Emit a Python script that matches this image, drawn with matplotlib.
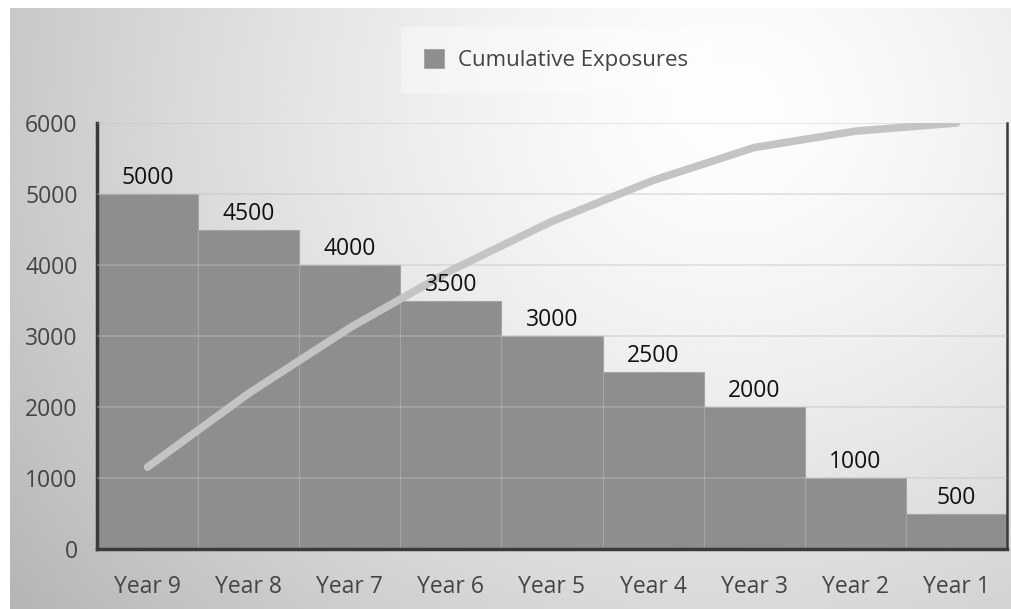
import numpy as np
import matplotlib
matplotlib.use("Agg")
import matplotlib.pyplot as plt
from matplotlib.patches import Patch

# data
years = ["Year 9", "Year 8", "Year 7", "Year 6", "Year 5", "Year 4", "Year 3", "Year 2", "Year 1"]
exposures = [5000, 4500, 4000, 3500, 3000, 2500, 2000, 1000, 500]
cumulative = [1154, 2192, 3115, 3923, 4615, 5192, 5654, 5885, 6000]
yticks = [0, 1000, 2000, 3000, 4000, 5000, 6000]

plt.rcParams['font.family'] = ['Open Sans', 'DejaVu Sans']

W, H = 1011, 609
fig = plt.figure(figsize=(W / 100, H / 100), dpi=100)
fig.patch.set_facecolor("white")

# gradient backdrop
bg = fig.add_axes([10 / W, 0, 1 - 10 / W, 1 - 8 / H])
xx, yy = np.meshgrid(np.linspace(10, W, 400), np.linspace(8, H, 250))
d = np.sqrt(((xx - 730) / 1.0) ** 2 + ((yy - 110) / 0.9) ** 2)
val = np.clip(0.995 - 0.24 * (d / 800) ** 1.4, 0, 1)
bg.imshow(val, cmap="gray", vmin=0, vmax=1, aspect="auto", extent=[0, 1, 0, 1], interpolation="bicubic")
bg.axis("off")

ax = fig.add_axes([97 / W, 60 / H, 910 / W, 426 / H])
ax.set_facecolor("none")
x = np.arange(len(years))

ax.bar(x, exposures, width=1.0, color="#8e8e8e", edgecolor="#a4a4a4", linewidth=0.8, zorder=2)
for yv in yticks[1:]:
    ax.axhline(yv, color="#c0c0c0", alpha=0.45, linewidth=1.2, zorder=3)
ax.plot(x, cumulative, color="#c4c4c4", linewidth=5.5, solid_capstyle="round", zorder=4)

for xi, v in zip(x, exposures):
    ax.text(xi, v + 55, str(v), ha="center", va="bottom", fontsize=16.5, color="#111111", zorder=5)

ax.set_xlim(-0.5, len(years) - 0.5)
ax.set_ylim(0, 6000)
ax.set_yticks(yticks)
ax.set_xticks(x)
ax.set_xticklabels(years)
ax.tick_params(axis="both", length=0, labelsize=16.5, labelcolor="#444444")
ax.tick_params(axis="y", pad=14)
ax.tick_params(axis="x", pad=19)

ax.spines["top"].set_visible(False)
for s in ["left", "bottom"]:
    ax.spines[s].set_color("#3a3a3a")
    ax.spines[s].set_linewidth(2.5)
ax.spines["right"].set_color("#3a3a3a")
ax.spines["right"].set_linewidth(1.8)

handle = Patch(facecolor="#8e8e8e", edgecolor="#a0a0a0", linewidth=0.6)
leg = fig.legend([handle], ["Cumulative Exposures"], loc="center",
                 bbox_to_anchor=(556 / W, 1 - 60 / H), frameon=True, fancybox=False,
                 fontsize=16, handlelength=0.9, handleheight=0.9, handletextpad=0.65,
                 borderpad=1.0, borderaxespad=0)
leg.get_frame().set_facecolor("white")
leg.get_frame().set_alpha(0.4)
leg.get_frame().set_edgecolor("none")
for t in leg.get_texts():
    t.set_color("#444444")

fig.savefig("out.png", dpi=100)
